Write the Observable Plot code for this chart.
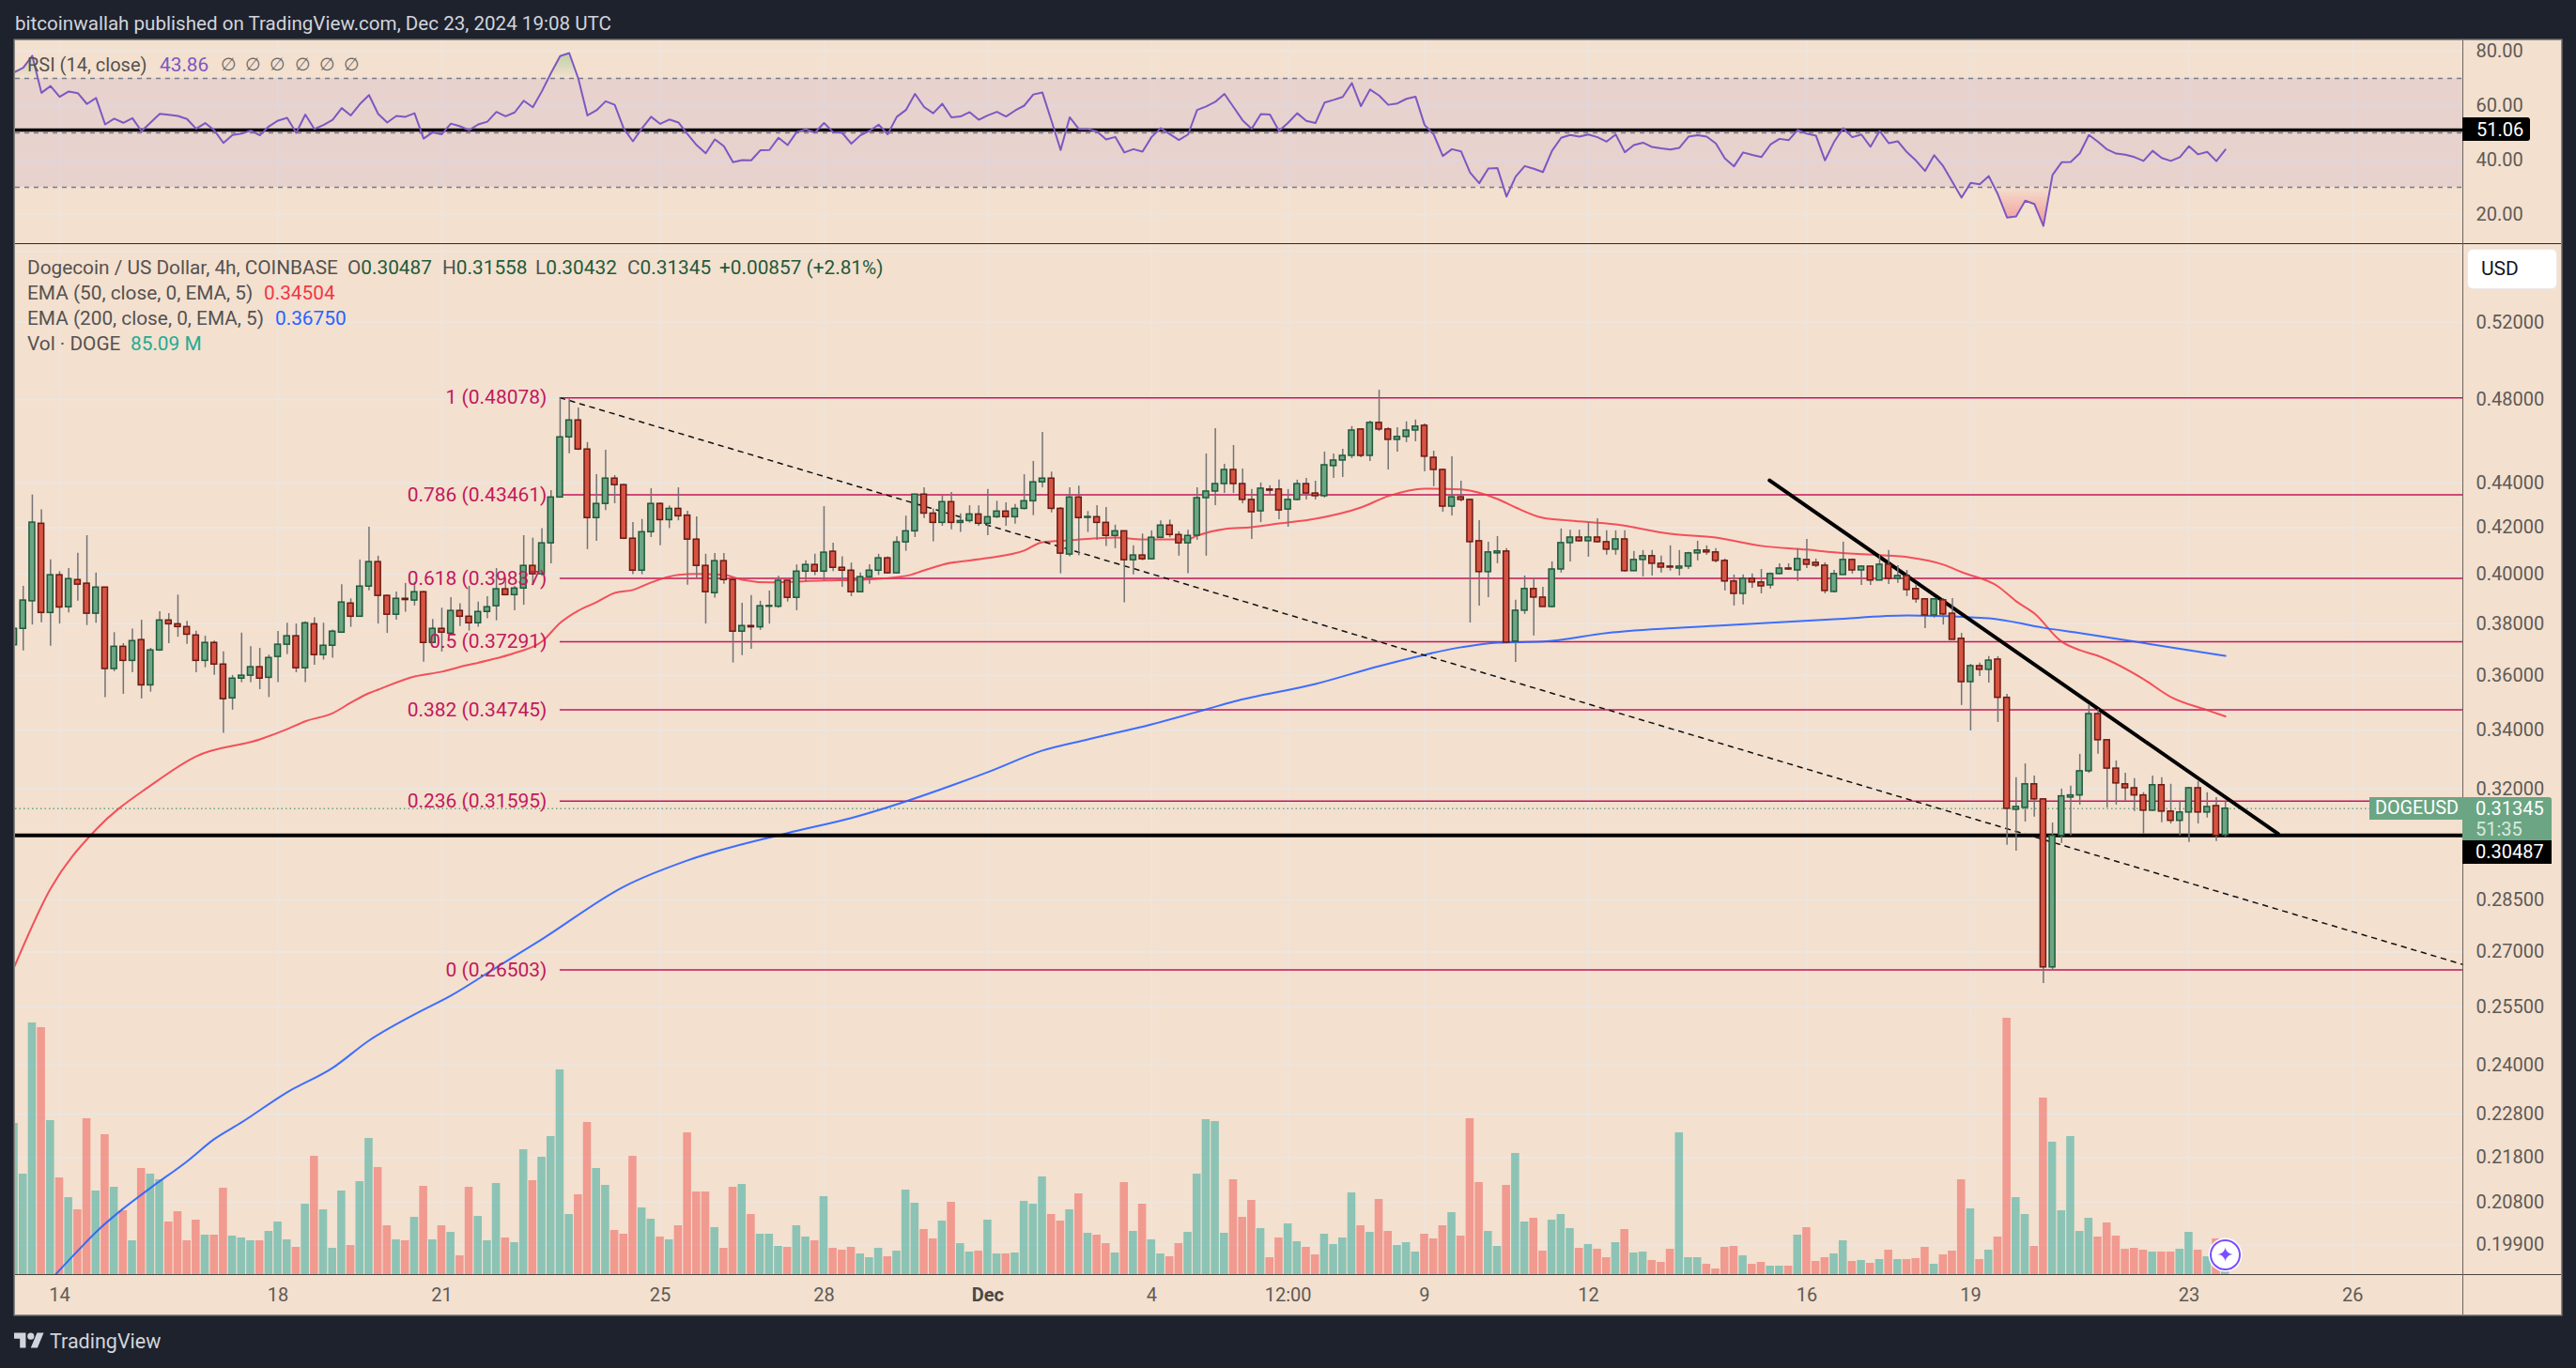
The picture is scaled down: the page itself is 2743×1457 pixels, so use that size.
<!DOCTYPE html>
<html><head><meta charset="utf-8">
<script src="https://cdn.jsdelivr.net/npm/d3@7"></script>
<script src="https://cdn.jsdelivr.net/npm/@observablehq/plot@0.6"></script>
<style>
html,body{margin:0;padding:0;background:#1E222D;}
#page{position:relative;width:2743px;height:1457px;overflow:hidden;background:#1E222D;font-family:Roboto,sans-serif;}
#panel{position:absolute;left:16px;top:43px;width:2711px;height:1357px;background:#F3E0CF;box-shadow:0 0 0 1.5px #8a8683;}
.t{position:absolute;white-space:pre;line-height:1;font-size:20.8px;color:#55524f;}
.l{position:absolute;background:#2f2a27;}
svg{position:absolute;left:0;}
</style></head><body><div id="page"><div id="panel"></div></div>
<script>
// ---- data ----
const firstBar = -5; // bar number; 0 is Nov 14 00:00, one bar every 4 hours
const opens = [.3716,.3780,.3890,.4217,.3843,.3997,.3866,.3977,.3962,.3840,
.3946,.3625,.3710,.3656,.3736,.3564,.3696,.3813,.3798,.3787,
.3754,.3656,.3725,.3642,.3516,.3589,.3600,.3632,.3592,.3671,
.3718,.3751,.3628,.3798,.3678,.3714,.3765,.3881,.3828,.3950,
.4052,.3912,.3836,.3900,.3893,.3927,.3725,.3780,.3761,.3851,
.3828,.3802,.3847,.3870,.3939,.3915,.3942,.4036,.4001,.4132,
.4334,.4614,.4696,.4556,.4242,.4305,.4420,.4390,.4152,.4016,
.4180,.4305,.4233,.4283,.4253,.4148,.4036,.3923,.4056,.3977,
.3769,.3791,.3786,.3868,.3868,.3974,.3904,.4012,.4040,.4012,
.4096,.4028,.4016,.3927,.3989,.4016,.4068,.4005,.4136,.4184,
.4347,.4262,.4221,.4313,.4221,.4229,.4258,.4217,.4246,.4271,
.4246,.4283,.4317,.4403,.4420,.4283,.4084,.4334,.4243,.4246,
.4221,.4164,.4184,.4060,.4080,.4064,.4156,.4209,.4168,.4132,
.4165,.4331,.4361,.4395,.4460,.4395,.4323,.4272,.4370,.4370,
.4280,.4323,.4395,.4352,.4340,.4478,.4504,.4526,.4652,.4526,
.4684,.4652,.4602,.4616,.4647,.4670,.4517,.4460,.4293,.4335,
.4323,.4141,.4010,.4089,.4097,.3730,.3852,.3940,.3905,.3867,
.4021,.4133,.4157,.4141,.4157,.4137,.4105,.4149,.4014,.4061,
.4077,.4045,.4033,.4025,.4033,.4089,.4101,.4093,.4057,.3971,
.3920,.3982,.3967,.3955,.4002,.4025,.4017,.4061,.4049,.4037,
.3928,.3998,.4061,.4017,.4033,.3975,.4041,.3982,.3994,.3940,
.3898,.3833,.3894,.3840,.3741,.3576,.3636,.3622,.3661,.3518,
.3131,.3137,.3215,.3165,.2657,.3047,.3171,.3178,.3259,.3459,
.3366,.3268,.3215,.3202,.3178,.3128,.3212,.3125,.3095,.3122,
.3202,.3122,.3143,.30487];
const highs = [.3789,.3951,.4345,.4278,.4061,.4012,.4025,.4089,.4165,.4006,
.3946,.3765,.3722,.3779,.3814,.3704,.3848,.3840,.3915,.3810,
.3771,.3751,.3732,.3690,.3601,.3763,.3710,.3704,.3678,.3770,
.3802,.3799,.3808,.3824,.3802,.3775,.3958,.3900,.4061,.4202,
.4077,.3915,.3928,.3963,.3967,.3931,.3817,.3862,.3905,.3880,
.3951,.3887,.3909,.4025,.3986,.3951,.4165,.4154,.4196,.4365,
.48078,.4800,.4757,.4589,.4438,.4552,.4434,.4395,.4222,.4236,
.4374,.4310,.4296,.4378,.4272,.4247,.4085,.4088,.4088,.3980,
.3882,.3913,.3890,.3932,.3993,.3974,.4040,.4058,.4085,.4293,
.4133,.4074,.4048,.4006,.4041,.4085,.4074,.4160,.4251,.4347,
.4378,.4282,.4342,.4357,.4261,.4297,.4296,.4370,.4317,.4310,
.4303,.4438,.4500,.4638,.4450,.4289,.4378,.4385,.4271,.4297,
.4289,.4211,.4184,.4121,.4172,.4186,.4230,.4233,.4182,.4189,
.4378,.4535,.4656,.4486,.4575,.4464,.4370,.4400,.4387,.4413,
.4370,.4413,.4421,.4408,.4544,.4535,.4557,.4666,.4652,.4693,
.4846,.4661,.4661,.4689,.4698,.4679,.4548,.4464,.4522,.4408,
.4327,.4231,.4137,.4161,.4109,.3894,.3994,.3986,.3947,.4053,
.4194,.4189,.4189,.4222,.4239,.4186,.4186,.4186,.4097,.4101,
.4101,.4077,.4121,.4101,.4093,.4141,.4121,.4109,.4065,.3998,
.3998,.4002,.4021,.4006,.4045,.4045,.4109,.4149,.4065,.4049,
.4017,.4137,.4065,.4037,.4033,.4081,.4101,.4037,.4017,.3959,
.3898,.3901,.3901,.3901,.3762,.3643,.3647,.3672,.3672,.3531,
.3237,.3284,.3243,.3165,.3088,.3199,.3209,.3317,.3493,.3476,
.3366,.3294,.3252,.3234,.3187,.3243,.3237,.3215,.3159,.3205,
.3224,.3187,.3171,.31558];
const lows = [.3692,.3694,.3795,.3804,.3712,.3799,.3843,.3890,.3793,.3802,
.3519,.3615,.3531,.3611,.3514,.3539,.3692,.3722,.3747,.3719,
.3611,.3630,.3601,.3390,.3473,.3574,.3574,.3548,.3519,.3574,
.3680,.3611,.3574,.3639,.3659,.3666,.3765,.3786,.3827,.3933,
.3799,.3762,.3814,.3846,.3871,.3651,.3722,.3690,.3757,.3789,
.3771,.3786,.3820,.3812,.3912,.3852,.3874,.3954,.3993,.4045,
.4331,.4536,.4551,.4105,.4141,.4275,.4306,.4148,.3999,.3999,
.4157,.4121,.4196,.4230,.3956,.3982,.3799,.3903,.3960,.3648,
.3676,.3700,.3774,.3799,.3862,.3887,.3852,.3970,.3996,.3974,
.4012,.3947,.3909,.3925,.3960,.3996,.4002,.4003,.4098,.4157,
.4240,.4138,.4206,.4191,.4179,.4220,.4206,.4165,.4240,.4206,
.4215,.4278,.4253,.4378,.4265,.4003,.4074,.4078,.4179,.4145,
.4118,.4109,.3884,.3998,.4058,.4061,.4152,.4156,.4077,.4003,
.4145,.4077,.4297,.4352,.4352,.4306,.4149,.4222,.4340,.4235,
.4202,.4319,.4323,.4323,.4331,.4421,.4425,.4513,.4517,.4500,
.4642,.4460,.4544,.4589,.4593,.4451,.4383,.4268,.4251,.4314,
.3803,.3871,.3905,.4045,.3726,.3650,.3837,.3752,.3867,.3863,
.4006,.4053,.4137,.4073,.4133,.4081,.4081,.4010,.4014,.3990,
.3994,.4006,.4014,.3994,.4021,.4057,.4081,.4049,.3932,.3871,
.3875,.3943,.3920,.3940,.3998,.4017,.3971,.4025,.4029,.3920,
.3924,.3998,.4002,.3955,.3955,.3975,.3959,.3963,.3909,.3882,
.3781,.3822,.3795,.3737,.3490,.3399,.3597,.3572,.3429,.3017,
.2999,.3091,.3107,.2613,.2647,.3023,.3047,.3146,.3252,.3317,
.3137,.3146,.3159,.3125,.3053,.3125,.3089,.3085,.3047,.3026,
.3085,.3104,.3029,.30432];
const closes = [.3780,.3893,.4222,.3843,.3997,.3865,.3981,.3958,.3840,.3946,
.3625,.3710,.3656,.3732,.3564,.3696,.3813,.3798,.3787,.3757,
.3656,.3725,.3642,.3513,.3589,.3600,.3632,.3589,.3667,.3718,
.3751,.3628,.3802,.3678,.3714,.3769,.3885,.3828,.3950,.4052,
.3912,.3836,.3900,.3895,.3927,.3725,.3780,.3765,.3851,.3828,
.3802,.3847,.3866,.3939,.3915,.3942,.4036,.4001,.4132,.4334,
.4614,.4696,.4556,.4242,.4305,.4420,.4390,.4152,.4016,.4180,
.4305,.4233,.4283,.4250,.4148,.4036,.3927,.4056,.3977,.3769,
.3791,.3786,.3870,.3871,.3974,.3904,.4012,.4040,.4012,.4092,
.4028,.4016,.3927,.3989,.4016,.4068,.4005,.4136,.4184,.4347,
.4262,.4221,.4313,.4221,.4229,.4258,.4217,.4246,.4271,.4246,
.4283,.4317,.4403,.4420,.4283,.4088,.4334,.4242,.4247,.4221,
.4164,.4184,.4060,.4080,.4064,.4156,.4209,.4168,.4132,.4164,
.4331,.4361,.4395,.4460,.4395,.4323,.4268,.4374,.4365,.4276,
.4323,.4395,.4352,.4340,.4482,.4504,.4526,.4647,.4526,.4684,
.4652,.4602,.4616,.4647,.4666,.4522,.4460,.4293,.4335,.4323,
.4137,.4010,.4093,.4097,.3726,.3852,.3940,.3905,.3867,.4021,
.4133,.4157,.4141,.4157,.4137,.4105,.4149,.4014,.4061,.4077,
.4045,.4029,.4029,.4033,.4089,.4101,.4093,.4057,.3971,.3920,
.3982,.3967,.3951,.4002,.4025,.4021,.4065,.4041,.4037,.3932,
.4002,.4061,.4017,.4033,.3975,.4041,.3982,.3994,.3936,.3898,
.3833,.3898,.3837,.3737,.3576,.3636,.3622,.3657,.3518,.3134,
.3140,.3215,.3165,.2657,.3047,.3175,.3178,.3259,.3459,.3366,
.3268,.3218,.3202,.3178,.3128,.3212,.3125,.3095,.3122,.3202,
.3122,.3140,.3047,.31345];
const volumes = [966,642,1608,1578,984,618,492,414,996,534,
894,558,408,216,678,642,606,336,402,216,
348,252,252,552,246,234,216,216,276,336,
222,174,450,756,414,168,534,186,594,870,
684,312,222,216,366,564,222,312,270,120,
558,372,216,582,234,204,798,600,750,882,
1308,384,510,972,678,570,282,258,756,426,
354,240,222,312,906,528,528,300,168,558,
576,384,258,258,180,174,312,240,216,498,
168,156,174,132,108,168,114,150,540,456,
288,228,342,462,198,144,150,348,132,132,
138,468,450,624,384,342,414,516,264,252,
198,138,588,276,450,222,132,114,198,270,
642,990,978,264,606,366,474,294,108,234,
324,210,174,126,258,192,234,522,312,270,
480,276,186,204,144,258,228,312,396,246,
996,588,276,180,570,774,336,360,150,348,
384,294,168,192,162,108,204,288,138,144,
90,78,162,906,108,108,66,36,174,180,
120,66,78,54,54,54,252,300,84,108,
132,216,84,90,72,96,156,96,96,102,
174,66,126,150,606,420,96,156,240,1638,
492,384,180,1128,846,408,882,276,360,240,
330,246,162,168,156,144,144,144,162,270,
156,114,228,85.09];
const rsi = [72.2,73.9,78.3,64.7,67.2,63.2,65.2,64.6,60.6,62.8,
53.1,55.2,53.7,55.4,50.6,53.8,57.0,56.6,56.2,55.1,
51.5,53.6,50.9,46.3,49.2,49.7,50.9,49.1,52.4,54.5,
55.5,50.0,56.7,51.4,52.9,54.8,59.1,56.4,60.6,63.9,
57.0,53.8,56.2,55.9,57.2,47.9,50.2,49.5,53.4,52.4,
51.0,53.1,54.1,57.7,56.1,57.5,61.8,59.4,65.3,72.0,
78.2,79.3,69.9,56.4,58.3,61.6,60.3,51.5,46.9,51.7,
55.9,53.3,54.9,53.8,49.5,45.5,42.5,47.6,45.1,39.2,
40.0,39.9,43.6,43.7,48.2,45.5,50.3,51.3,50.1,53.6,
50.3,50.0,46.0,49.1,50.7,53.0,49.5,55.9,58.4,64.3,
59.5,57.2,60.7,55.7,56.0,57.6,54.8,56.4,57.7,56.0,
58.2,60.0,64.1,64.8,54.4,43.7,55.7,51.4,51.4,50.5,
47.6,48.5,42.8,44.0,43.1,48.5,51.7,49.5,47.4,49.4,
58.4,59.7,61.4,64.3,59.5,54.6,51.5,56.9,56.7,50.7,
53.7,57.2,54.4,53.6,61.1,62.1,63.2,68.3,59.8,65.9,
63.7,60.3,60.8,62.5,63.3,52.9,49.4,41.5,44.0,43.2,
35.4,31.5,36.9,37.1,26.6,33.9,37.8,36.8,35.6,43.4,
48.2,49.2,48.6,49.4,48.4,46.8,49.4,42.9,45.5,46.4,
44.8,44.3,43.9,44.5,48.6,49.1,48.6,46.1,40.6,37.7,
42.8,41.9,41.1,45.7,47.8,47.3,51.1,49.7,49.0,39.9,
46.7,51.7,48.4,49.4,44.9,50.7,46.2,46.9,42.9,39.8,
36.0,41.8,37.7,32.0,26.2,31.6,31.1,34.1,27.4,18.9,
19.3,25.1,23.9,15.8,34.5,39.2,39.3,42.5,49.2,46.7,
43.9,42.4,42.0,41.1,39.7,43.4,40.8,39.7,41.1,45.1,
42.1,43.0,39.6,43.86];
const ema50Bars = [-5,-1,4,10,15,22,25,27,30,32,34,35,39,42,44,47,50,53,55,57,59,61,63,65,68,70,73,75,78,84,88,93,95,97,102,106,108,111,116,119,124,125,128,131,134,138,143,146,150,154,158,160,163,166,171,177,182,187,192,195,200,203,207,209,213,215,217,220,222,224,229,232,236,238];
const ema50 = [.2657,.2884,.3067,.3211,.3310,.3369,.3405,.3433,.3462,.3500,.3535,.3548,.3597,.3615,.3633,.3657,.3686,.3730,.3803,.3852,.3886,.3924,.3936,.3967,.3998,.4002,.3998,.3978,.3967,.3975,.3978,.3994,.4017,.4041,.4069,.4101,.4137,.4145,.4157,.4149,.4149,.4165,.4194,.4202,.4218,.4239,.4289,.4340,.4374,.4370,.4327,.4289,.4243,.4231,.4214,.4173,.4157,.4121,.4105,.4093,.4081,.4073,.4041,.4010,.3951,.3890,.3841,.3730,.3697,.3675,.3587,.3521,.3473,.34504];
const ema200Bars = [-1,2,4,7,10,14,17,20,25,30,34,39,43,48,53,62,69,80,87,102,108,113,120,126,129,138,145,150,154,158,163,170,182,195,203,212,218,222,228,238];
const ema200 = [.1919,.1978,.2017,.2067,.2112,.2171,.2222,.2261,.2333,.2393,.2462,.2530,.2580,.2657,.2736,.2890,.2970,.3056,.3104,.3256,.3330,.3369,.3422,.3476,.3504,.3569,.3636,.3679,.3708,.3726,.3730,.3763,.3792,.3818,.3833,.3822,.3784,.3763,.3730,.36750];
const fibRatios = ["1","0.786","0.618","0.5","0.382","0.236","0"];
const fibPrices = [.48078,.43461,.39837,.37291,.34745,.31595,.26503];
const fibStartBar = 55;
const fibDiagonalBars = [55,264.09];
const fibDiagonal = [.48078,.2665];
const trendBars = [187.9,243.8];
const trend = [.4412,.3053];
const supportPrice = .30487;
const lastPrice = .31345;
const rsiHLine = 51.06;
const priceTicks = [.52,.48,.44,.42,.40,.38,.36,.34,.32,.285,.27,.255,.24,.228,.218,.208,.199];
const rsiTicks = [80,60,40,20];
const timeTickBars = [0,24,42,66,84,102,120,135,150,168,192,210,234,252];
const timeTickLabels = ["14","18","21","25","28","Dec","4","12:00","9","12","16","19","23","26"];

// ---- assemble ----
const candles = opens.map((o,k)=>({i:k+firstBar,o,h:highs[k],l:lows[k],c:closes[k],v:volumes[k],r:rsi[k],up:closes[k]>=o}));
const xScale = {domain:[-4.85,264.09]};
const base = {width:2743,marginLeft:16,marginRight:121,marginTop:0,marginBottom:0,x:{...xScale,axis:null}};
const gridColor = "#ECE5E0";
const page = document.getElementById("page");
function place(p,top){p.style.top=top+"px";p.style.left="0";p.style.background="transparent";p.style.position="absolute";p.style.fontFamily="Roboto, sans-serif";page.appendChild(p);return p;}

// RSI pane
const gradDefs = (index,{y})=>{
  const ns="http://www.w3.org/2000/svg";
  const defs=document.createElementNS(ns,"defs");
  const mk=(id,color,v0,a0,v1,a1)=>{
    const g=document.createElementNS(ns,"linearGradient");
    g.setAttribute("id",id);g.setAttribute("gradientUnits","userSpaceOnUse");
    g.setAttribute("x1",0);g.setAttribute("x2",0);g.setAttribute("y1",y(v0));g.setAttribute("y2",y(v1));
    [[0,a0],[1,a1]].forEach(([o,a])=>{const s=document.createElementNS(ns,"stop");s.setAttribute("offset",o);s.setAttribute("stop-color",color);s.setAttribute("stop-opacity",a);g.appendChild(s);});
    defs.appendChild(g);
  };
  mk("rsiUp","#4CAF50",82,.42,70,0);
  mk("rsiDown","#F23645",30,0,15,.45);
  return defs;
};
const rsiPlot = Plot.plot({...base,height:216,y:{domain:[9.31,83.793],axis:null},marks:[
  gradDefs,
  Plot.ruleY(rsiTicks,{stroke:gridColor,strokeWidth:2}),
  Plot.ruleX(timeTickBars,{stroke:gridColor,strokeWidth:1.5}),
  Plot.rect([[30,70]],{x1:()=>xScale.domain[0],x2:()=>xScale.domain[1],y1:d=>d[0],y2:d=>d[1],fill:"#7E57C2",fillOpacity:.1}),
  Plot.ruleY([70,50,30],{stroke:"#787B86",strokeWidth:1.5,strokeDasharray:"5 5"}),
  Plot.areaY(candles,{x:"i",y1:()=>70,y2:"r",fill:"url(#rsiUp)",clip:true}),
  Plot.areaY(candles,{x:"i",y1:()=>30,y2:"r",fill:"url(#rsiDown)",clip:true}),
  Plot.ruleY([rsiHLine],{stroke:"#000",strokeWidth:3.5}),
  Plot.line(candles,{x:"i",y:"r",stroke:"#7E57C2",strokeWidth:2,clip:true}),
  Plot.axisY(rsiTicks,{anchor:"right",tickSize:0,tickPadding:14,tickFormat:d=>d.toFixed(2),fontSize:20,fill:"#5e5a56",label:null})
]});
place(rsiPlot,43);

// price pane: grid
const yLog = {type:"log",domain:[.19296,.5645],axis:null};
const gridPlot = Plot.plot({...base,height:1098,y:yLog,marks:[
  Plot.ruleY([.56,...priceTicks],{stroke:gridColor,strokeWidth:2}),
  Plot.ruleX(timeTickBars,{stroke:gridColor,strokeWidth:1.5}),
  Plot.axisY(priceTicks,{anchor:"right",tickSize:0,tickPadding:14,tickFormat:d=>d.toFixed(5),fontSize:20,fill:"#5e5a56",label:null})
]});
place(gridPlot,259);

// volume and the time axis
const volPlot = Plot.plot({...base,height:443,marginBottom:43,y:{domain:[0,2400],axis:null},marks:[
  Plot.rect(candles,{x1:d=>d.i-.44,x2:d=>d.i+.44,y1:()=>0,y2:"v",fill:d=>d.up?"#26A69A":"#EF5350",fillOpacity:.5,clip:true}),
  Plot.axisX(timeTickBars.filter(d=>d!==102),{anchor:"bottom",tickSize:0,tickPadding:14,tickFormat:d=>timeTickLabels[timeTickBars.indexOf(d)],fontSize:20,fill:"#5e5a56",label:null}),
  Plot.axisX([102],{anchor:"bottom",tickSize:0,tickPadding:14,tickFormat:d=>timeTickLabels[timeTickBars.indexOf(d)],fontSize:20,fontWeight:"bold",fill:"#4c4844",label:null})
]});
place(volPlot,957);

// price pane: studies, drawings, candles
const fibs = fibPrices.map((p,k)=>({p,label:`${fibRatios[k]} (${p.toFixed(5)})`}));
const pricePlot = Plot.plot({...base,height:1098,y:yLog,marks:[
  Plot.ruleY([lastPrice],{stroke:"#6BA583",strokeWidth:1.5,strokeDasharray:"1.5 3"}),
  Plot.ruleY(fibs,{y:"p",x1:()=>fibStartBar,x2:()=>xScale.domain[1],stroke:"#C2185B",strokeWidth:1.5}),
  Plot.line(ema50,{x:(d,k)=>ema50Bars[k],y:d=>d,stroke:"#F23645",strokeWidth:2,strokeOpacity:.85,curve:"monotone-x",clip:true}),
  Plot.line(ema200,{x:(d,k)=>ema200Bars[k],y:d=>d,stroke:"#2962FF",strokeWidth:2,strokeOpacity:.9,curve:"monotone-x",clip:true}),
  Plot.line(fibDiagonal,{x:(d,k)=>fibDiagonalBars[k],y:d=>d,stroke:"#111",strokeWidth:1.5,strokeDasharray:"5 6"}),
  Plot.ruleY([supportPrice],{stroke:"#000",strokeWidth:4}),
  Plot.line(trend,{x:(d,k)=>trendBars[k],y:d=>d,stroke:"#000",strokeWidth:4}),
  Plot.ruleX(candles,{x:"i",y1:"l",y2:"h",stroke:"#737375",strokeWidth:1.5,clip:true}),
  Plot.rect(candles,{x1:d=>d.i-.31,x2:d=>d.i+.31,y1:"o",y2:"c",fill:d=>d.up?"#6BA583":"#D75442",stroke:d=>d.up?"#1F5A3C":"#6B1A14",strokeWidth:1.5,clip:true}),
  Plot.text(fibs,{x:()=>fibStartBar,y:"p",text:"label",dx:-14,textAnchor:"end",fontSize:21,fill:"#C2185B"})
]});
place(pricePlot,259);

// frame lines
function line(l,t,w,h,c){const d=document.createElement("div");d.className="l";d.style.cssText=`left:${l}px;top:${t}px;width:${w}px;height:${h}px;background:${c||"#2f2a27"}`;page.appendChild(d);}
line(16,258.5,2711,1.5);
line(16,1356.5,2711,1.5,"#4a433f");
line(2621.5,43,1,1357,"#6b625c");

// text helpers
function txt(x,y,parts,extra){const d=document.createElement("div");d.className="t";d.style.left=x+"px";d.style.top=y+"px";
  if(extra)Object.assign(d.style,extra);
  (Array.isArray(parts)?parts:[parts]).forEach(p=>{const s=document.createElement("span");if(typeof p==="string"){s.textContent=p;}else{s.textContent=p[0];s.style.color=p[1];}d.appendChild(s);});
  page.appendChild(d);d.style.transform="translateY(-50%)";return d;}
const dg="#1f5a3a";
txt(16,25,"bitcoinwallah published on TradingView.com, Dec 23, 2024 19:08 UTC",{color:"#d1d4dc",fontSize:"20.6px"});
txt(29,69,"RSI (14, close)",{fontSize:"20px"});
txt(170,69,[["43.86","#7E57C2"]]);
txt(235,69,"∅  ∅  ∅  ∅  ∅  ∅",{fontSize:"18.5px",color:"#6b6762"});
txt(29,285,"Dogecoin / US Dollar, 4h, COINBASE");
txt(370,285,["O",["0.30487",dg]]);
txt(471,285,["H",["0.31558",dg]]);
txt(570,285,["L",["0.30432",dg]]);
txt(668,285,["C",["0.31345",dg]]);
txt(766,285,[["+0.00857 (+2.81%)",dg]]);
txt(29,312,"EMA (50, close, 0, EMA, 5)");
txt(281,312,[["0.34504","#F23645"]]);
txt(29,339,"EMA (200, close, 0, EMA, 5)");
txt(293,339,[["0.36750","#2962FF"]]);
txt(29,366,"Vol · DOGE");
txt(139,366,[["85.09 M","#22AB94"]]);

// right hand badges
const yP = v=>259+pricePlot.scale("y").apply(v);
const yR = v=>43+rsiPlot.scale("y").apply(v);
function box(l,t,w,h,bg,r){const d=document.createElement("div");d.style.cssText=`position:absolute;left:${l}px;top:${t}px;width:${w}px;height:${h}px;background:${bg};border-radius:${r||0}px`;page.appendChild(d);return d;}
const yl = yP(lastPrice), ys = yP(supportPrice), yr = yR(rsiHLine);
box(2523,yl-12,99,24,"#6BA583","3px 0 0 3px");
box(2622,yl-12,95,46,"#6BA583","0 3px 0 0");
txt(2529,yl,"DOGEUSD",{color:"#fff",fontSize:"19.8px"});
txt(2636,yl,lastPrice.toFixed(5),{color:"#fff",fontSize:"20px"});
txt(2636,yl+22,"51:35",{color:"#d8eadf",fontSize:"20px"});
box(2622,yl+34,95,25,"#000","0 0 3px 3px");
txt(2636,yl+46.5,supportPrice.toFixed(5),{color:"#fff",fontSize:"20px"});
box(2622,yr-12.5,72,25,"#000","0 3px 3px 0");
txt(2637,yr,rsiHLine.toFixed(2),{color:"#fff",fontSize:"20px"});
const usd=box(2628,266,94,41,"#fff",5);usd.style.boxShadow="0 0 0 1px #EDE9E6";
txt(2642,286,"USD",{color:"#131722",fontSize:"21px"});

// assistant icon
const ic=document.createElement("div");
ic.style.cssText="position:absolute;left:2353px;top:1320px;width:29px;height:29px;border-radius:50%;background:#fff;border:2.5px solid #7B4DFF;box-shadow:0 0 0 1.5px #fff;display:flex;align-items:center;justify-content:center;color:#7B4DFF;font-size:22px;line-height:1;font-family:'DejaVu Sans'";
ic.textContent="✦";page.appendChild(ic);

// TradingView mark
const logo=document.createElementNS("http://www.w3.org/2000/svg","svg");
logo.setAttribute("viewBox","0 0 36 28");logo.setAttribute("width","32");logo.setAttribute("height","25");
logo.style.cssText="position:absolute;left:15px;top:1416px";
logo.innerHTML='<path fill="#d1d4dc" d="M14 22H7V11H0V4h14v18zM28 22h-8l7.5-18h8L28 22z"/><circle fill="#d1d4dc" cx="20" cy="8" r="4"/>';
page.appendChild(logo);
txt(53,1429,"TradingView",{color:"#d1d4dc",fontSize:"21.5px"});
</script></body></html>
